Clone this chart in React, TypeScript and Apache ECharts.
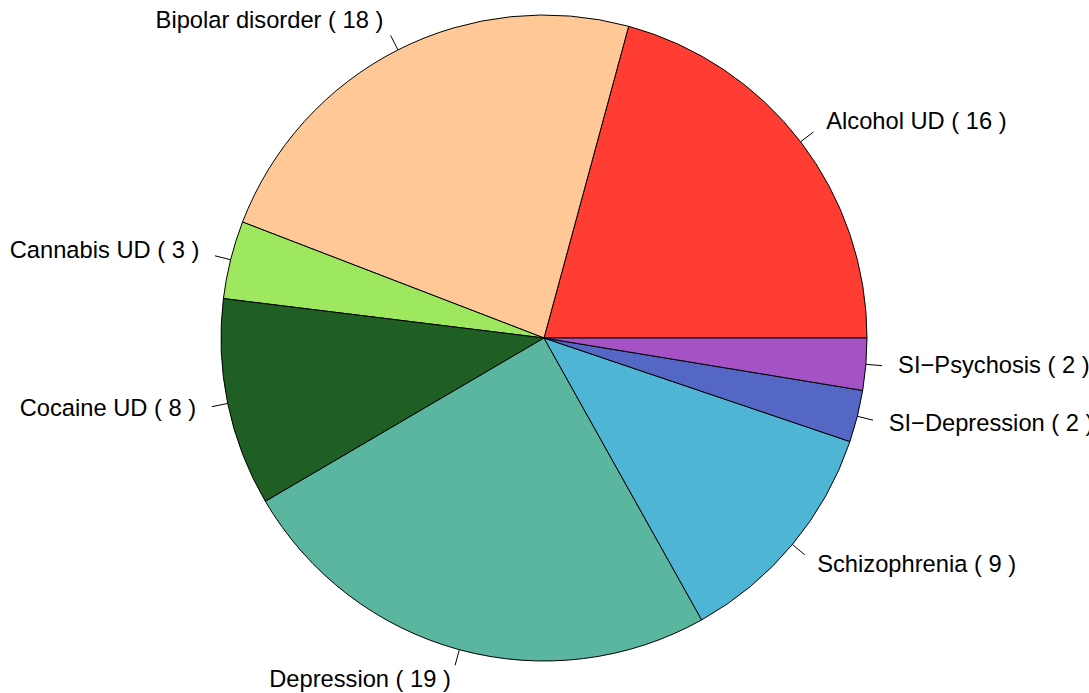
import React, { useEffect, useRef } from "react";
import * as echarts from "echarts";

const categories = [
  "Alcohol UD",
  "Bipolar disorder",
  "Cannabis UD",
  "Cocaine UD",
  "Depression",
  "Schizophrenia",
  "SI\u2212Depression",
  "SI\u2212Psychosis",
];
const counts = [16, 18, 3, 8, 19, 9, 2, 2];
const colors = [
  "#FF3D33",
  "#FFC896",
  "#9EE85F",
  "#1F5F24",
  "#5BB69F",
  "#4FB5D5",
  "#5467C4",
  "#A552C4",
];

export default function App() {
  const ref = useRef<HTMLDivElement>(null);
  useEffect(() => {
    if (!ref.current) return;
    const chart = echarts.init(ref.current, undefined, { renderer: "svg" });
    const R = 323;
    chart.setOption({
      animation: false,
      backgroundColor: "#ffffff",
      series: [
        {
          type: "pie",
          center: [544, 338],
          radius: R,
          startAngle: 0,
          clockwise: false,
          avoidLabelOverlap: false,
          silent: true,
          emphasis: { disabled: true },
          itemStyle: { borderColor: "#000000", borderWidth: 1 },
          label: {
            show: true,
            position: "outside",
            formatter: "{b} ( {c} )",
            color: "#000000",
            fontFamily: "Liberation Sans, Arial, sans-serif",
            fontSize: 23.7,
            distanceToLabelLine: 0,
          },
          labelLine: {
            show: true,
            length: R * 0.05,
            length2: 0,
            smooth: false,
            lineStyle: { color: "#000000", width: 1 },
          },
          labelLayout: (params: any) => {
            const pts = params.labelLinePoints;
            if (!pts) return {};
            const dx = pts[1][0] - pts[0][0];
            const dy = pts[1][1] - pts[0][1] - 1.5;
            return {
              dx,
              dy,
              labelLinePoints: [pts[0], pts[1]],
            };
          },
          data: categories.map((name, i) => ({
            name,
            value: counts[i],
            itemStyle: { color: colors[i] },
          })),
        },
      ],
    });
    return () => chart.dispose();
  }, []);
  return (
    <div
      style={{
        position: "absolute",
        left: 0,
        top: 0,
        width: 1089,
        height: 693,
        overflow: "hidden",
        background: "#fff",
      }}
    >
      <div ref={ref} style={{ width: 1400, height: 693 }} />
    </div>
  );
}
